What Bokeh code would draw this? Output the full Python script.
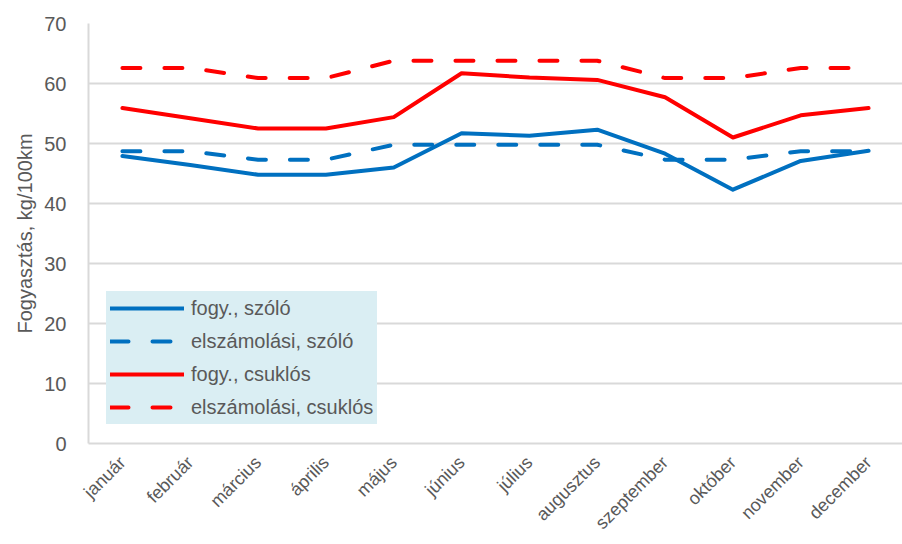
from bokeh.plotting import figure
from bokeh.models import FactorRange, Range1d, SingleIntervalTicker
from bokeh.embed import file_html
from bokeh.resources import INLINE
import math

months = ["január", "február", "március", "április", "május", "június",
          "július", "augusztus", "szeptember", "október", "november", "december"]
fogy_szolo = [47.9, 46.4, 44.8, 44.8, 46.0, 51.7, 51.3, 52.3, 48.3, 42.3, 47.1, 48.8]
elsz_szolo = [48.7, 48.7, 47.3, 47.3, 49.8, 49.8, 49.8, 49.8, 47.3, 47.3, 48.7, 48.7]
fogy_csuklos = [55.9, 54.2, 52.5, 52.5, 54.4, 61.7, 61.0, 60.6, 57.7, 51.0, 54.7, 55.9]
elsz_csuklos = [62.6, 62.6, 60.9, 60.9, 63.8, 63.8, 63.8, 63.8, 60.9, 60.9, 62.6, 62.6]
y_label = "Fogyasztás, kg/100km"

BLUE = "#0070C0"
RED = "#FF0000"
GREY = "#595959"
LEGEND_BG = "#DAEEF3"
FONT = "Liberation Sans"

p = figure(width=902, height=544, x_range=FactorRange(*months, range_padding=0),
           y_range=Range1d(0, 70), output_backend="svg", toolbar_location=None,
           min_border_left=88, min_border_right=0, min_border_top=23,
           min_border_bottom=101)
p.outline_line_color = None
p.background_fill_color = "white"

p.line(months, fogy_szolo, color=BLUE, line_width=4, line_cap="round", line_join="round",
       legend_label="fogy., szóló")
p.line(months, elsz_szolo, color=BLUE, line_width=4, line_cap="round", line_join="round",
       line_dash="18 24", legend_label="elszámolási, szóló")
p.line(months, fogy_csuklos, color=RED, line_width=4, line_cap="round", line_join="round",
       legend_label="fogy., csuklós")
p.line(months, elsz_csuklos, color=RED, line_width=4, line_cap="round", line_join="round",
       line_dash="18 24", legend_label="elszámolási, csuklós")

p.yaxis.ticker = SingleIntervalTicker(interval=10)
p.yaxis.axis_label = y_label
p.yaxis.axis_label_text_font = FONT
p.yaxis.axis_label_text_font_size = "20px"
p.yaxis.axis_label_text_font_style = "normal"
p.yaxis.axis_label_text_color = GREY
p.yaxis.axis_label_standoff = 5
p.yaxis.major_label_text_font = FONT
p.yaxis.major_label_text_font_size = "20px"
p.yaxis.major_label_text_color = GREY
p.yaxis.major_label_standoff = 16
p.yaxis.major_tick_line_color = None
p.yaxis.minor_tick_line_color = None
p.yaxis.axis_line_color = "#d9d9d9"
p.yaxis.axis_line_width = 2

p.xaxis.major_label_orientation = math.pi / 4
p.xaxis.major_label_text_font = FONT
p.xaxis.major_label_text_font_size = "18px"
p.xaxis.major_label_text_color = GREY
p.xaxis.major_label_standoff = 10
p.xaxis.major_tick_line_color = None
p.xaxis.minor_tick_line_color = None
p.xaxis.axis_line_color = "#d9d9d9"
p.xaxis.axis_line_width = 2

p.xgrid.grid_line_color = None
p.ygrid.grid_line_color = "#d9d9d9"
p.ygrid.grid_line_width = 2

leg = p.legend[0]
leg.location = (18, 19)
leg.background_fill_color = LEGEND_BG
leg.background_fill_alpha = 1
leg.border_line_color = LEGEND_BG
leg.border_line_width = 4
leg.label_text_font = FONT
leg.label_text_font_size = "20px"
leg.label_text_color = GREY
leg.glyph_width = 74
leg.glyph_height = 26
leg.label_height = 26
leg.label_standoff = 7
leg.spacing = 7
leg.padding = 0
leg.margin = 0

open("out.html", "w").write(file_html(p, INLINE))
